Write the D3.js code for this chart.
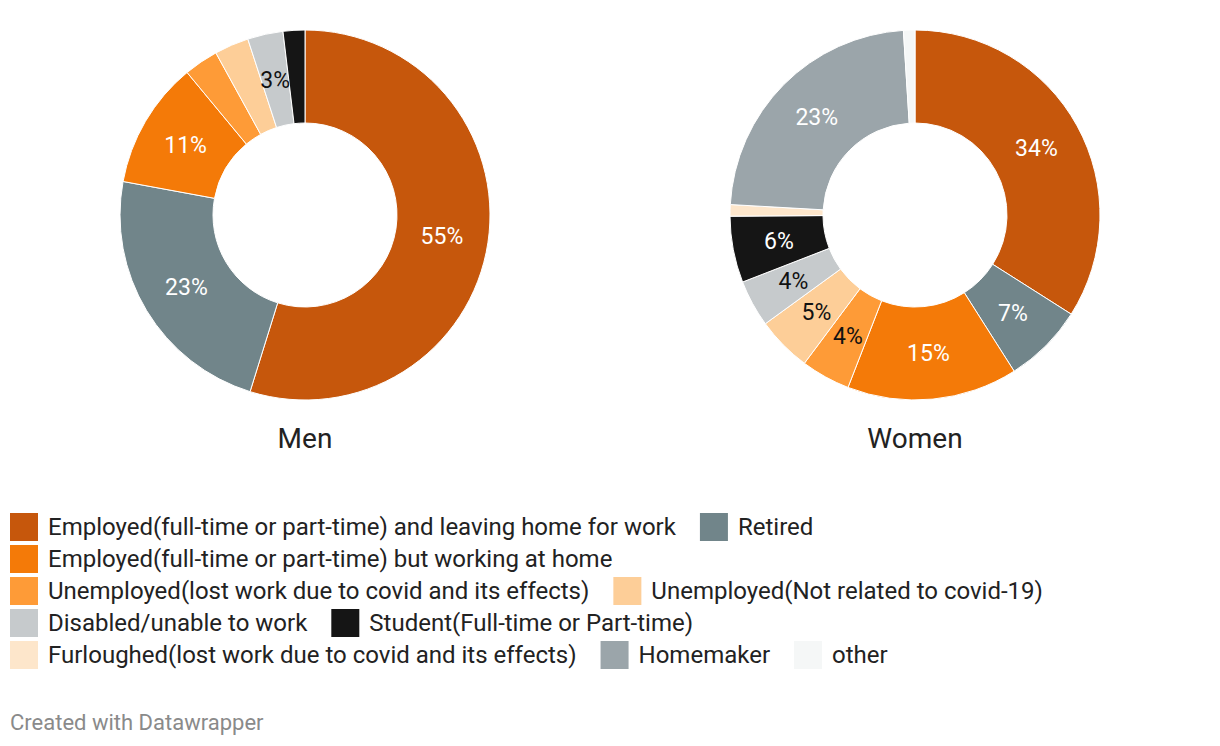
<!DOCTYPE html>
<html><head><meta charset="utf-8">
<script src="https://cdn.jsdelivr.net/npm/d3@7"></script>
<style>
body{margin:0;background:#fff;font-family:Roboto,"Noto Sans",sans-serif;}
svg{display:block;}
</style></head>
<body>
<svg id="chart" width="1220" height="746"></svg>
<script>
const categories = [
  "Employed(full-time or part-time) and leaving home for work",
  "Retired",
  "Employed(full-time or part-time) but working at home",
  "Unemployed(lost work due to covid and its effects)",
  "Unemployed(Not related to covid-19)",
  "Disabled/unable to work",
  "Student(Full-time or Part-time)",
  "Furloughed(lost work due to covid and its effects)",
  "Homemaker",
  "other"
];
const colors = ["#c6570c","#71858a","#f47a08","#fe9b37","#fdce98","#c6cacc","#151515","#fde6cb","#9ba5aa","#f5f7f7"];
const menValues   = [54.8, 23.1, 11.1, 3.0, 3.0, 3.1, 1.9, 0, 0, 0];
const womenValues = [34.0, 7.0, 14.9, 4.3, 4.8, 4.1, 5.8, 1.0, 23.1, 1.0];
const chartTitles = ["Men", "Women"];
const footer = "Created with Datawrapper";

const svg = d3.select("#chart");
const outerR = 185, innerR = 92;
const centers = [[305, 215], [915, 215]];
const pie = d3.pie().sort(null).value(d => d.v);
const arc = d3.arc().innerRadius(innerR).outerRadius(outerR);
const labelArc = d3.arc().innerRadius((innerR+outerR)/2).outerRadius((innerR+outerR)/2);

[menValues, womenValues].forEach((vals, i) => {
  const data = vals.map((v, k) => ({v, k}));
  const g = svg.append("g").attr("transform", `translate(${centers[i][0]},${centers[i][1]})`);
  const arcs = pie(data);
  g.selectAll("path").data(arcs.filter(a => a.data.v > 0)).join("path")
    .attr("d", arc).attr("fill", a => colors[a.data.k])
    .attr("stroke", "#fff").attr("stroke-width", 1);
  g.selectAll("text").data(arcs.filter(a => a.data.v >= 3.05)).join("text")
    .attr("transform", a => `translate(${labelArc.centroid(a)})`)
    .attr("text-anchor", "middle").attr("dy", "0.35em")
    .attr("font-size", 23)
    .attr("fill", a => d3.lab(colors[a.data.k]).l > 70 ? "#111" : "#fff")
    .text(a => Math.round(a.data.v) + "%");
  svg.append("text").attr("x", centers[i][0]).attr("y", 448)
    .attr("text-anchor", "middle").attr("font-size", 28).attr("fill", "#222")
    .text(chartTitles[i]);
});

// legend
const legend = svg.append("g");
const maxW = 1210, sw = 28, rowH = 32;
let x = 10, y = 513;
categories.forEach((c, k) => {
  const it = legend.append("g");
  it.append("rect").attr("width", sw).attr("height", sw).attr("fill", colors[k]);
  const t = it.append("text").attr("x", 38).attr("y", 14).attr("dy", "0.35em")
    .attr("font-size", 24).attr("fill", "#222").text(c);
  const w = 38 + t.node().getComputedTextLength();
  if (x > 10 && x + w > maxW) { x = 10; y += rowH; }
  it.attr("transform", `translate(${x},${y})`);
  x += w + 24;
});

svg.append("text").attr("x", 10).attr("y", 730).attr("font-size", 22)
  .attr("fill", "#8a8a8a").text(footer);
</script>
</body></html>
